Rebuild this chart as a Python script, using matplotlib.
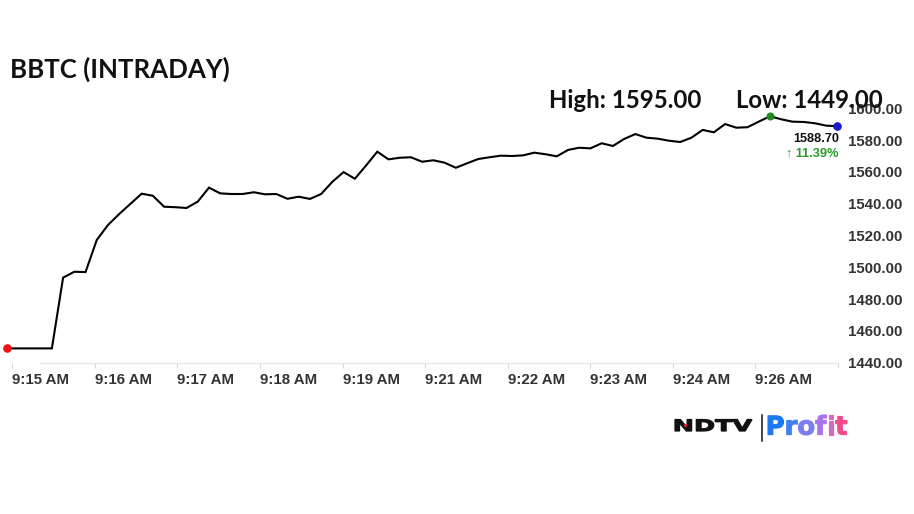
import numpy as np
import matplotlib
matplotlib.use("Agg")
import matplotlib.pyplot as plt
from matplotlib.textpath import TextPath, text_to_path
from matplotlib.patches import PathPatch, Circle
from matplotlib.font_manager import FontProperties
from matplotlib.transforms import Affine2D, Bbox

# ---------------- data ----------------
prices = [1449.0, 1449.0, 1449.0, 1449.0, 1449.0, 1493.5, 1497.2, 1497.0, 1517.2, 1526.6,
          1533.5, 1539.9, 1546.3, 1545.0, 1538.1, 1537.8, 1537.3, 1541.3, 1550.1, 1546.5,
          1546.1, 1546.1, 1547.2, 1545.9, 1546.1, 1543.1, 1544.4, 1543.0, 1546.1, 1553.8,
          1559.9, 1555.7, 1564.0, 1572.7, 1567.9, 1568.9, 1569.2, 1566.4, 1567.3, 1565.8,
          1562.6, 1565.4, 1568.1, 1569.2, 1570.2, 1570.0, 1570.4, 1572.1, 1571.1, 1569.8,
          1573.8, 1575.2, 1574.8, 1578.0, 1576.3, 1580.7, 1583.8, 1581.5, 1580.9, 1579.6,
          1578.8, 1581.5, 1586.4, 1584.9, 1590.1, 1587.8, 1588.1, 1591.6, 1595.0, 1593.1,
          1591.6, 1591.4, 1590.6, 1589.1, 1588.7]
time_labels = ["9:15 AM", "9:16 AM", "9:17 AM", "9:18 AM", "9:19 AM",
               "9:21 AM", "9:22 AM", "9:23 AM", "9:24 AM", "9:26 AM", ""]
y_ticks = [1440, 1460, 1480, 1500, 1520, 1540, 1560, 1580, 1600]
title = "BBTC (INTRADAY)"
high_val = 1595.00
low_val = 1449.00
last_val = 1588.70
change_pct = 11.39

# ---------------- figure ----------------
W, H = 914, 514
fig = plt.figure(figsize=(W / 100, H / 100), dpi=100)
fig.patch.set_facecolor("white")

x = np.arange(len(prices))
px0, step = 7.0, 11.22           # pixel of index 0, pixels per index
ax_left_px, ax_right_px = 0.0, 845.0
ax_bot_px, ax_top_px = 362.7, 100.0
ppu = 1.59                        # pixels per price unit

ax = fig.add_axes([ax_left_px / W, (H - ax_bot_px) / H,
                   (ax_right_px - ax_left_px) / W, (ax_bot_px - ax_top_px) / H])
ax.set_xlim((ax_left_px - px0) / step, (ax_right_px - px0) / step)
ax.set_ylim(1440, 1440 + (ax_bot_px - ax_top_px) / ppu)

ax.plot(x, prices, color="black", lw=1.5, zorder=3, solid_joinstyle="miter")
i_low = int(np.argmin(prices))
i_high = int(np.argmax(prices))
ax.plot(x[i_low], prices[i_low], "o", color="#ee1111", ms=5.2, zorder=4, clip_on=False)
ax.plot(x[i_high], prices[i_high], "o", color="#1e8c1e", ms=4.8, zorder=4, clip_on=False)
ax.plot(x[-1], prices[-1], "o", color="#1a1ac8", ms=5.2, zorder=4, clip_on=False)

for s in ["top", "left", "right"]:
    ax.spines[s].set_visible(False)
ax.spines["bottom"].set_color("#e6e6e6")
ax.spines["bottom"].set_linewidth(1.0)
ax.spines["bottom"].set_bounds((40 - px0) / step, (838 - px0) / step)

tick_pos = 0.47 + 7.36 * np.arange(len(time_labels))
ax.set_xticks(tick_pos)
ax.set_xticklabels(time_labels, fontfamily="Liberation Sans", fontweight="bold",
                   fontsize=10.8, color="#333333", ha="left")
ax.tick_params(axis="x", length=3.5, width=0.8, color="#d8d8d8", pad=4.0)

ax.yaxis.tick_right()
ax.set_yticks(y_ticks)
ax.set_yticklabels([f"{v:.2f}" for v in y_ticks], fontfamily="Liberation Sans",
                   fontweight="bold", fontsize=10.8, color="#333333")
ax.tick_params(axis="y", length=0, pad=2.2)

# ---------------- overlay (pixel coords, y up) ----------------
ov = fig.add_axes([0, 0, 1, 1])
ov.set_xlim(0, W)
ov.set_ylim(0, H)
ov.set_axis_off()

def Y(py):
    return H - py

ov.text(10, Y(77.5), title, fontfamily="Lato", fontweight="bold", fontsize=18.6,
        color="#111111", ha="left", va="baseline")
ov.text(549, Y(108.3), f"High: {high_val:.2f}", fontfamily="Lato", fontweight="bold",
        fontsize=17.3, color="#111111", ha="left", va="baseline", zorder=5)
ov.text(736, Y(108.3), f"Low: {low_val:.2f}", fontfamily="Lato", fontweight="bold",
        fontsize=17.3, color="#111111", ha="left", va="baseline", zorder=5)

ov.text(839, Y(141.7), f"{last_val:.2f}", fontfamily="Liberation Sans", fontweight="bold",
        fontsize=9.2, color="#111111", ha="right", va="baseline", zorder=6,
        bbox=dict(fc="white", ec="none", pad=1.5))
ov.text(839, Y(156), f"\u2191 {change_pct:.2f}%", family=["Liberation Sans", "DejaVu Sans"],
        fontweight="bold", fontsize=9.2, color="#2a9a2a", ha="right", va="baseline", zorder=6)

# ---------------- NDTV | Profit logo ----------------
fp_ndtv = FontProperties(family="DejaVu Sans", weight="bold")
tp = TextPath((0, 0), "NDTV", size=15, prop=fp_ndtv)
bb = tp.get_extents()
sx = (752 - 675) / bb.width
sy = 11.5 / bb.height
tr = Affine2D().translate(-bb.x0, -bb.y0).scale(sx, sy).translate(675, Y(431))
ov.add_patch(PathPatch(tr.transform_path(tp), fc="#111111", ec="#111111", lw=0.9))
ov.add_patch(Circle((685.5, Y(425.5)), 1.6, fc="#e8202a", ec="none", zorder=3))
ov.plot([762, 762], [Y(415), Y(441)], color="#111111", lw=1.1)

word = "Profit"
letter_colors = ["#1a78f0", "#3f7ef3", "#7a7ef1", "#a874ea", "#d866c4", "#f04c8c"]
fp_prof = FontProperties(family="DejaVu Sans", weight="bold")
size = 23
paths = []
for i, ch in enumerate(word):
    off = text_to_path.get_text_width_height_descent(word[:i], fp_prof, ismath=False)[0] \
        * size / fp_prof.get_size_in_points() if i > 0 else 0.0
    paths.append(TextPath((off, 0), ch, size=size, prop=fp_prof))
bbs = Bbox.union([p.get_extents() for p in paths])
sx2 = (847 - 768) / bbs.width
sy2 = (435 - 415) / bbs.height
tr2 = Affine2D().translate(-bbs.x0, -bbs.y0).scale(sx2, sy2).translate(768, Y(435))
for p, c in zip(paths, letter_colors):
    ov.add_patch(PathPatch(tr2.transform_path(p), fc=c, ec=c, lw=0.8))

fig.savefig("out.png", dpi=100, facecolor="white")
